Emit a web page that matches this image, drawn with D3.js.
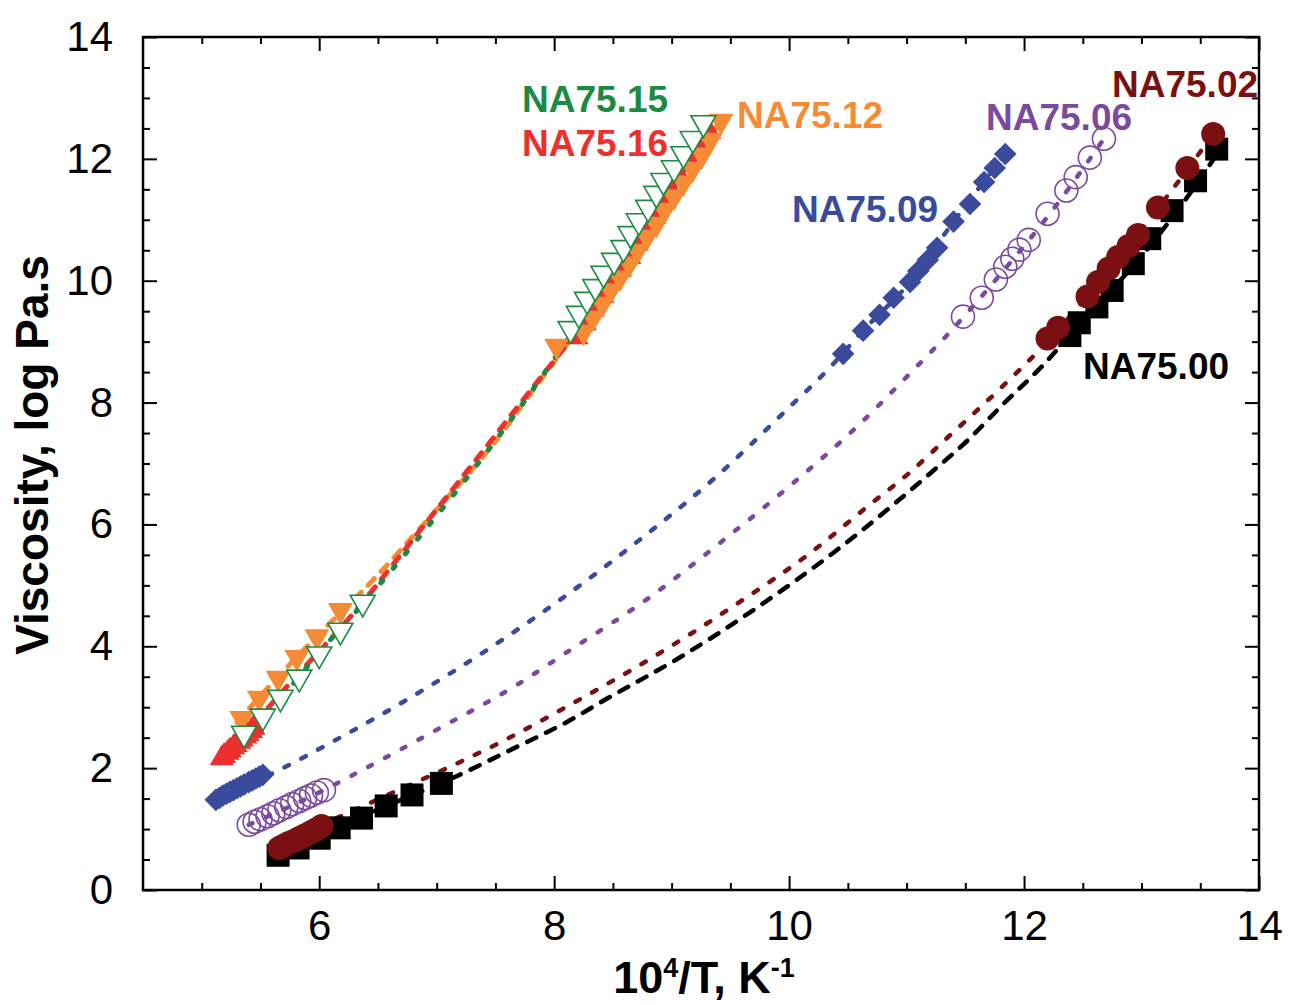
<!DOCTYPE html>
<html><head><meta charset="utf-8">
<script src="https://cdn.jsdelivr.net/npm/d3@7"></script>
<style>body{margin:0;background:#fff} svg{display:block}</style>
</head><body><svg id="c" width="1301" height="1005"></svg>
<script>
// ---------- data ----------
const xTickLabels = [6, 8, 10, 12, 14];
const yTickLabels = [0, 2, 4, 6, 8, 10, 12, 14];
const seriesNames = ["NA75.00", "NA75.02", "NA75.06", "NA75.09", "NA75.16", "NA75.12", "NA75.15"];

// measured points (10^4/T, log viscosity)
const na7500Pts = [[5.65,0.57],[5.82,0.69],[6.0,0.85],[6.17,1.02],[6.36,1.18],[6.57,1.38],[6.79,1.56],[7.04,1.75],
  [12.39,9.10],[12.47,9.31],[12.62,9.57],[12.75,9.84],[12.93,10.28],[13.07,10.69],[13.26,11.15],[13.46,11.64],[13.64,12.16]];
const na7502Pts = [[5.66,0.69],[5.69,0.72],[5.72,0.75],[5.75,0.78],[5.79,0.81],[5.82,0.84],[5.85,0.87],[5.88,0.90],[5.92,0.94],[5.95,0.97],[5.98,1.00],[6.02,1.05],
  [12.20,9.05],[12.29,9.23],[12.54,9.74],[12.63,9.98],[12.72,10.20],[12.80,10.39],[12.89,10.57],[12.97,10.75],[13.14,11.20],[13.39,11.85],[13.61,12.41]];
const na7506Pts = [[5.40,1.07],[5.45,1.12],[5.50,1.16],[5.56,1.21],[5.61,1.26],[5.66,1.31],[5.72,1.36],[5.77,1.41],[5.83,1.46],[5.88,1.51],[5.93,1.55],[5.98,1.60],[6.04,1.64],
  [11.48,9.41],[11.64,9.72],[11.76,10.02],[11.84,10.23],[11.90,10.36],[11.96,10.51],[12.04,10.67],[12.20,11.10],[12.36,11.48],[12.44,11.70],[12.56,12.02],[12.68,12.33]];
const na7509Pts = [[5.12,1.48],[5.15,1.51],[5.18,1.55],[5.21,1.58],[5.24,1.61],[5.27,1.64],[5.30,1.67],[5.33,1.70],[5.36,1.73],[5.40,1.77],[5.43,1.80],[5.46,1.83],[5.49,1.86],[5.52,1.89],
  [10.46,8.80],[10.63,9.18],[10.77,9.44],[10.89,9.72],[11.03,9.98],[11.10,10.16],[11.18,10.34],[11.26,10.54],[11.40,10.97],[11.54,11.26],[11.66,11.62],[11.75,11.85],[11.84,12.08]];
const na7516Pts = [[5.17,2.16],[5.19,2.20],[5.22,2.25],[5.24,2.29],[5.27,2.34],[5.29,2.38],[5.32,2.43],[5.34,2.47],[5.37,2.52],[5.39,2.56],[5.42,2.61],[5.44,2.66],
  [8.19,9.07],[8.26,9.30],[8.33,9.53],[8.41,9.75],[8.48,9.98],[8.56,10.18],[8.64,10.39],[8.70,10.61],[8.78,10.84],[8.85,11.05],[8.93,11.28],[8.99,11.49],[9.07,11.71],[9.16,11.95],[9.23,12.18],[9.32,12.44]];
const na7512Pts = [[5.34,2.82],[5.49,3.15],[5.65,3.48],[5.81,3.82],[5.98,4.16],[6.18,4.59],
  [8.02,8.93],[8.25,9.16],[8.33,9.39],[8.41,9.62],[8.48,9.84],[8.56,10.05],[8.64,10.28],[8.71,10.49],[8.79,10.72],[8.87,10.93],[8.94,11.16],[9.02,11.38],[9.10,11.61],[9.18,11.84],[9.26,12.07],[9.33,12.31],[9.42,12.62]];
const na7515Pts = [[5.36,2.57],[5.52,2.85],[5.67,3.16],[5.83,3.49],[6.00,3.87],[6.18,4.26],[6.37,4.72],
  [8.14,9.21],[8.21,9.46],[8.28,9.69],[8.35,9.90],[8.42,10.12],[8.51,10.33],[8.59,10.54],[8.65,10.77],[8.72,10.98],[8.80,11.20],[8.87,11.43],[8.93,11.64],[9.02,11.85],[9.10,12.08],[9.18,12.33],[9.27,12.59]];

// fitted curves
const na7500Fit = [[5.65,0.6],[6.0,0.9],[6.5,1.32],[7.15,1.85],[7.63,2.30],[8.12,2.77],[8.44,3.13],[9.09,3.84],[9.73,4.64],[10.38,5.54],[10.86,6.28],[11.19,6.82],[11.52,7.38],[11.82,7.97],[12.15,8.59],[12.5,9.35],[13.0,10.4],[13.4,11.4],[13.65,12.1]];
const na7502Fit = [[6.0,1.05],[6.64,1.61],[7.11,2.02],[7.60,2.48],[8.08,2.98],[8.90,3.89],[9.55,4.69],[10.20,5.56],[10.69,6.33],[11.02,6.84],[11.34,7.41],[11.66,7.98],[11.99,8.59],[12.2,9.0],[12.6,9.9],[13.0,10.85],[13.4,11.85],[13.61,12.41]];
const na7506Fit = [[5.40,1.07],[6.04,1.64],[6.20,1.80],[7.01,2.64],[7.66,3.34],[8.13,3.93],[8.81,4.80],[9.44,5.74],[10.09,6.77],[10.57,7.59],[11.05,8.52],[11.37,9.16],[11.84,10.2],[12.2,11.05],[12.68,12.33]];
const na7509Fit = [[5.12,1.48],[5.64,1.95],[6.12,2.44],[6.77,3.15],[7.42,3.93],[8.07,4.79],[8.71,5.72],[9.36,6.75],[10.0,7.92],[10.32,8.52],[10.63,9.18],[11.03,9.98],[11.40,10.97],[11.84,12.08]];
const na7516Fit = [[5.12,2.1],[5.45,2.75],[5.8,3.5],[6.25,4.45],[6.89,5.98],[7.40,7.22],[7.75,8.08],[8.2,9.2],[8.6,10.35],[9.0,11.5],[9.32,12.45]];
const na7512Fit = [[5.3,2.75],[5.65,3.5],[6.0,4.2],[6.4,4.97],[6.98,6.2],[7.55,7.49],[7.78,8.1],[8.2,9.2],[8.6,10.35],[9.0,11.5],[9.42,12.62]];
const na7515Fit = [[5.36,2.45],[5.7,3.2],[6.0,3.9],[6.30,4.54],[6.85,5.79],[7.36,7.02],[7.72,7.95],[8.14,9.1],[8.6,10.3],[9.0,11.45],[9.27,12.45]];

// ---------- chart ----------
const svg = d3.select("#c");
const x = d3.scaleLinear().domain([4.5, 14]).range([143, 1259]);
const y = d3.scaleLinear().domain([0, 14]).range([890, 37]);

const colors = {
  "NA75.00": "#000000", "NA75.02": "#7a1012", "NA75.06": "#7b4a9f", "NA75.09": "#3a4b9d",
  "NA75.16": "#ed2f2e", "NA75.12": "#f58b34", "NA75.15": "#1b8a42"
};

const xMinor = d3.range(5, 14.01, 0.5).filter(v => v % 2 !== 0);
const yMinor = d3.range(0.5, 14, 0.5).filter(v => v % 2 !== 0);

function styleAxis(g){ g.select(".domain").remove(); g.selectAll(".tick line").attr("stroke","#000").attr("stroke-width",2); }

const fontTick = "'Liberation Sans', Arial, sans-serif";
// bottom
svg.append("g").attr("transform","translate(0,890)")
  .call(d3.axisBottom(x).tickValues(xTickLabels).tickSize(-14).tickPadding(20).tickFormat(d3.format("d")))
  .call(styleAxis)
  .call(g => g.selectAll("text").attr("font-family",fontTick).attr("font-size",42).attr("fill","#000"));
svg.append("g").attr("transform","translate(0,890)")
  .call(d3.axisBottom(x).tickValues(xMinor).tickSize(-7).tickFormat("")).call(styleAxis);
// top
svg.append("g").attr("transform","translate(0,37)")
  .call(d3.axisTop(x).tickValues(xTickLabels).tickSize(-14).tickFormat("")).call(styleAxis);
svg.append("g").attr("transform","translate(0,37)")
  .call(d3.axisTop(x).tickValues(xMinor).tickSize(-7).tickFormat("")).call(styleAxis);
// left
svg.append("g").attr("transform","translate(143,0)")
  .call(d3.axisLeft(y).tickValues(yTickLabels).tickSize(-14).tickPadding(30).tickFormat(d3.format("d")))
  .call(styleAxis)
  .call(g => g.selectAll("text").attr("font-family",fontTick).attr("font-size",42).attr("fill","#000"));
svg.append("g").attr("transform","translate(143,0)")
  .call(d3.axisLeft(y).tickValues(yMinor).tickSize(-7).tickFormat("")).call(styleAxis);
// right
svg.append("g").attr("transform","translate(1259,0)")
  .call(d3.axisRight(y).tickValues(yTickLabels).tickSize(-14).tickFormat("")).call(styleAxis);
svg.append("g").attr("transform","translate(1259,0)")
  .call(d3.axisRight(y).tickValues(yMinor).tickSize(-7).tickFormat("")).call(styleAxis);

// frame
svg.append("rect").attr("x",143).attr("y",37).attr("width",1259-143).attr("height",890-37)
  .attr("fill","none").attr("stroke","#000").attr("stroke-width",2.5);

// axis titles
const xt = svg.append("text").attr("x",704).attr("y",993).attr("text-anchor","middle")
  .attr("font-family",fontTick).attr("font-weight","bold").attr("font-size",45).attr("fill","#000");
xt.append("tspan").text("10");
xt.append("tspan").attr("font-size",27).attr("dy",-16).text("4");
xt.append("tspan").attr("dy",16).text("/T, K");
xt.append("tspan").attr("font-size",27).attr("dy",-16).text("-1");

svg.append("text").attr("transform","translate(48,455) rotate(-90)").attr("text-anchor","middle")
  .attr("font-family",fontTick).attr("font-weight","bold").attr("font-size",46).attr("fill","#000")
  .text("Viscosity, log Pa.s");

// fit lines
const line = d3.line().x(d => x(d[0])).y(d => y(d[1])).curve(d3.curveMonotoneX);
const fits = [
  {name:"NA75.00", data:na7500Fit, dash:"10 11", w:4.5},
  {name:"NA75.02", data:na7502Fit, dash:"5 14", w:4.5},
  {name:"NA75.06", data:na7506Fit, dash:"4 15", w:4.5},
  {name:"NA75.09", data:na7509Fit, dash:"5 14", w:4.5},
  {name:"NA75.12", data:na7512Fit, dash:"9 10", w:5},
  {name:"NA75.16", data:na7516Fit, dash:"9 10", w:5},
  {name:"NA75.15", data:na7515Fit, dash:"3 16", w:5}
];
svg.append("g").selectAll("path").data(fits).join("path")
  .attr("d", d => line(d.data)).attr("fill","none")
  .attr("stroke", d => colors[d.name]).attr("stroke-width", d => d.w)
  .attr("stroke-dasharray", d => d.dash).attr("stroke-linecap","round");

// markers
function marker(data, name, type, size, opts={}){
  svg.append("g").selectAll("path").data(data).join("path")
    .attr("d", d3.symbol().type(type).size(size)())
    .attr("transform", d => `translate(${x(d[0])},${y(d[1])}) rotate(${opts.rot||0})`)
    .attr("fill", opts.open ? (opts.fill || "none") : colors[name])
    .attr("stroke", opts.open ? colors[name] : "none")
    .attr("stroke-width", opts.open ? 1.6 : 0);
}
marker(na7500Pts, "NA75.00", d3.symbolSquare, 23*23);
marker(na7502Pts, "NA75.02", d3.symbolCircle, Math.PI*12*12);
marker(na7506Pts, "NA75.06", d3.symbolCircle, Math.PI*11.5*11.5, {open:true});
marker(na7509Pts, "NA75.09", d3.symbolSquare, 16*16, {rot:45});
marker(na7516Pts, "NA75.16", d3.symbolTriangle, 24*24*Math.sqrt(3)/4);
marker(na7512Pts, "NA75.12", d3.symbolTriangle, 25*25*Math.sqrt(3)/4, {rot:180});
marker(na7515Pts, "NA75.15", d3.symbolTriangle, 25*25*Math.sqrt(3)/4, {rot:180, open:true, fill:"#fff"});

// series labels
const labelPos = {
  "NA75.15":[522,112], "NA75.16":[522,156], "NA75.12":[737,128], "NA75.06":[986,130],
  "NA75.02":[1112,97], "NA75.09":[792,222], "NA75.00":[1083,379]
};
svg.append("g").selectAll("text").data(seriesNames).join("text")
  .attr("x", d => labelPos[d][0]).attr("y", d => labelPos[d][1])
  .attr("font-family",fontTick).attr("font-weight","bold").attr("font-size",37)
  .attr("fill", d => colors[d]).text(d => d);
</script></body></html>
